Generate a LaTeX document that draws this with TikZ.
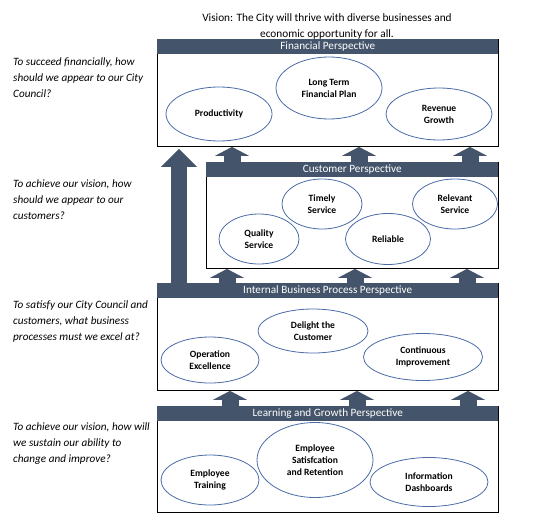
\documentclass[tikz,border=0pt]{standalone}
\usepackage{fontspec}
\setmainfont{Carlito}
\usetikzlibrary{shapes.geometric,arrows.meta,calc}
\definecolor{slate}{HTML}{44546A}
\definecolor{ellblue}{HTML}{4A6BA6}
\tikzset{
  panel/.style={draw=black, line width=0.9pt, anchor=north west, inner sep=0pt},
  header/.style={fill=slate, anchor=north west, inner sep=0pt, text=white, font=\fontsize{11.2}{12}\selectfont},
  goal/.style={ellipse, draw=ellblue, line width=0.8pt, inner sep=0pt, align=center,
     font=\bfseries\fontsize{9.6}{12}\selectfont},
  question/.style={anchor=north west, align=left, inner sep=0pt,
     font=\itshape\fontsize{11.2}{16}\selectfont},
  blockarrow/.style={draw=slate, line width=17pt, line cap=butt,
     -{Triangle[width=34pt,length=9pt]}},
}
\begin{document}
\begin{tikzpicture}[x=1pt,y=-1pt]
\useasboundingbox (0,0) rectangle (553,530);
% vision
\node[align=center, font=\fontsize{11.3}{16}\selectfont, inner sep=0pt] (vision) at (327,26)
  {Vision: The City will thrive with diverse businesses and\\economic opportunity for all.};
% panels
\node[panel, minimum width=341pt, minimum height=107pt] (fin) at (157,39) {};
\node[header, minimum width=341pt, minimum height=15pt] (finh) at (157,39) {Financial Perspective};
\node[panel, minimum width=292pt, minimum height=106pt] (cust) at (206,162) {};
\node[header, minimum width=292pt, minimum height=15pt] (custh) at (206,162) {Customer Perspective};
\node[panel, minimum width=341pt, minimum height=107pt] (int) at (157,283) {};
\node[header, minimum width=341pt, minimum height=15pt] (inth) at (157,283) {Internal Business Process Perspective};
\node[panel, minimum width=341pt, minimum height=106pt] (learn) at (157,406) {};
\node[header, minimum width=341pt, minimum height=15pt] (learnh) at (157,406) {Learning and Growth Perspective};
% financial goals
\node[goal, minimum width=106pt, minimum height=54pt] (prod) at (219,114) {Productivity};
\node[goal, minimum width=106pt, minimum height=62pt] (ltfp) at (329,88) {Long Term\\Financial Plan};
\node[goal, minimum width=106pt, minimum height=52pt] (rev) at (439,114) {Revenue\\Growth};
% customer goals
\node[goal, minimum width=80pt, minimum height=50pt] (timely) at (322,204) {Timely\\Service};
\node[goal, minimum width=80pt, minimum height=50pt] (quality) at (259,239) {Quality\\Service};
\node[goal, minimum width=85pt, minimum height=51pt] (reliable) at (388,239) {Reliable};
\node[goal, minimum width=85pt, minimum height=50pt] (relevant) at (455,204) {Relevant\\Service};
% internal goals
\node[goal, minimum width=110pt, minimum height=44pt] (delight) at (313,331) {Delight the\\Customer};
\node[goal, minimum width=98pt, minimum height=46pt] (oper) at (210,360) {Operation\\Excellence};
\node[goal, minimum width=119pt, minimum height=47pt] (cont) at (423,357) {Continuous\\Improvement};
% learning goals
\node[goal, minimum width=116pt, minimum height=75pt] (sat) at (315,460) {Employee\\Satisfcation\\and Retention};
\node[goal, minimum width=98pt, minimum height=50pt] (train) at (210,480) {Employee\\Training};
\node[goal, minimum width=118pt, minimum height=49pt] (info) at (429,482) {Information\\Dashboards};
% questions
\node[question] (q1) at (13,58) {To succeed financially, how\\should we appear to our City\\Council?};
\node[question] (q2) at (13,180) {To achieve our vision, how\\should we appear to our\\customers?};
\node[question] (q3) at (13,301) {To satisfy our City Council and\\customers, what business\\processes must we excel at?};
\node[question] (q4) at (13,423) {To achieve our vision, how will\\we sustain our ability to\\change and improve?};
% arrows customer -> financial
\foreach \x in {232,359,470}
  \draw[blockarrow] (\x,0 |- cust.north) -- (\x,0 |- fin.south);
% arrows internal -> customer
\foreach \x in {227,355,467}
  \draw[blockarrow] (\x,0 |- int.north) -- (\x,0 |- cust.south);
% arrows learning -> internal
\foreach \x in {230,357,468}
  \draw[blockarrow] (\x,0 |- learn.north) -- (\x,0 |- int.south);
% big arrow internal -> financial
\draw[blockarrow, line width=16pt, -{Triangle[width=35pt,length=18pt]}] (179,0 |- int.north) -- ($(179,0 |- fin.south)+(0,2)$);
\end{tikzpicture}
\end{document}
